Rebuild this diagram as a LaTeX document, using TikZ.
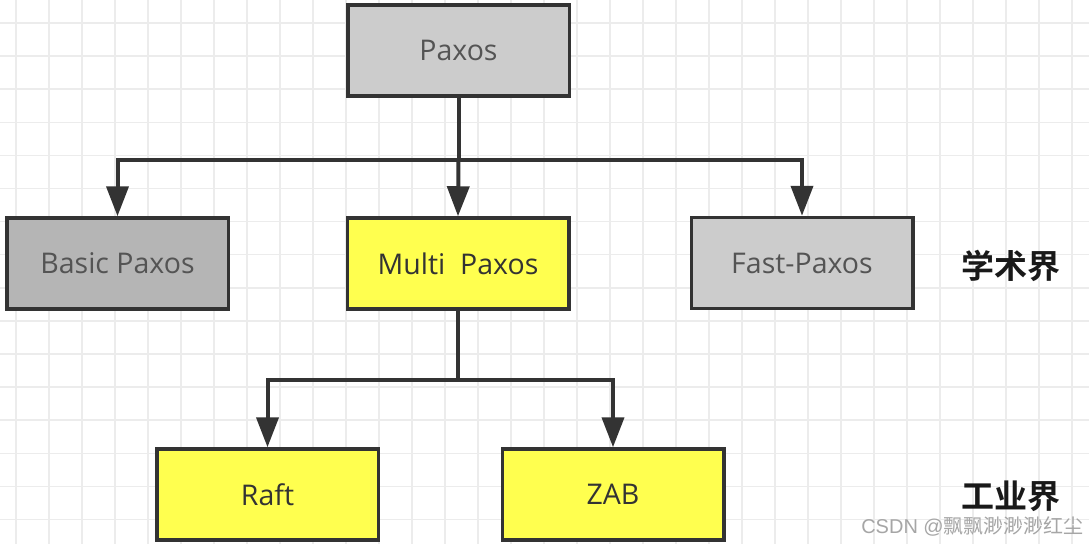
\documentclass[tikz,border=0pt]{standalone}
\usepackage{fontspec}
\setmainfont{Open Sans}
\newfontfamily\cjk{Noto Sans CJK SC}
\newfontfamily\cjkbold{Noto Sans CJK SC Bold}
\newfontfamily\wmlatin{Liberation Sans}
\usetikzlibrary{arrows.meta}
\definecolor{gridc}{HTML}{ECECEC}
\definecolor{linec}{HTML}{333333}
\definecolor{graya}{HTML}{CCCCCC}
\definecolor{grayb}{HTML}{B5B5B5}
\definecolor{yel}{HTML}{FFFF4F}
\tikzset{
  box/.style={draw=linec, line width=3.5pt, minimum width=221.5pt, minimum height=91pt,
    inner sep=0pt, font=\fontsize{28.5}{32}\selectfont},
  graybox/.style={box, fill=graya, text=black!67},
  darkgraybox/.style={box, fill=grayb, text=black!67},
  yelbox/.style={box, fill=yel, text=black!80},
  conn/.style={draw=linec, line width=4pt, line join=miter},
  arr/.style={conn, -{Triangle[length=30pt,width=22pt]}},
  lbl/.style={font=\cjkbold\fontsize{33}{36}\selectfont, text=black!90, inner sep=0pt},
}
\begin{document}
\begin{tikzpicture}[x=1pt,y=-1pt]
\useasboundingbox (0,0) rectangle (1089,544);
\fill[white] (0,0) rectangle (1089,544);
\foreach \i in {0,...,32} {\draw[gridc, line width=1.5pt] ({16+33*\i},0) -- ({16+33*\i},544);}
\foreach \j in {0,...,16} {\draw[gridc, line width=1.5pt] (0,{23+33.1*\j}) -- (1089,{23+33.1*\j});}

\node[graybox] (paxos) at (458.5,50.5) {Paxos};
\node[darkgraybox] (basic) at (117.5,263.5) {Basic Paxos};
\node[yelbox] (multi) at (458,263.5) {Multi\ \ Paxos};
\node[graybox] (fast) at (802,263) {Fast-Paxos};
\node[yelbox] (raft) at (267.5,494.5) {Raft};
\node[yelbox] (zab) at (613,494.5) {ZAB};

\node[lbl] (acad) at (1011,266) {学术界};
\node[lbl] (indus) at (1011,496) {工业界};
\node[font=\cjk\fontsize{20}{22}\selectfont, text=black!35, anchor=east, inner sep=0pt] (wm) at (1084,526) {{\wmlatin CSDN @}飘飘渺渺渺红尘};

\coordinate (j1) at (458.5,160);
\coordinate (j2) at (458,380);
\draw[conn] (paxos.south) -- (j1);
\draw[arr] (j1) -| (basic.north);
\draw[arr] (j1) -| (fast.north);
\draw[arr] (j1) -- (multi.north);
\draw[conn] (multi.south) -- (j2);
\draw[arr] (j2) -| (raft.north);
\draw[arr] (j2) -| (zab.north);
\end{tikzpicture}
\end{document}
